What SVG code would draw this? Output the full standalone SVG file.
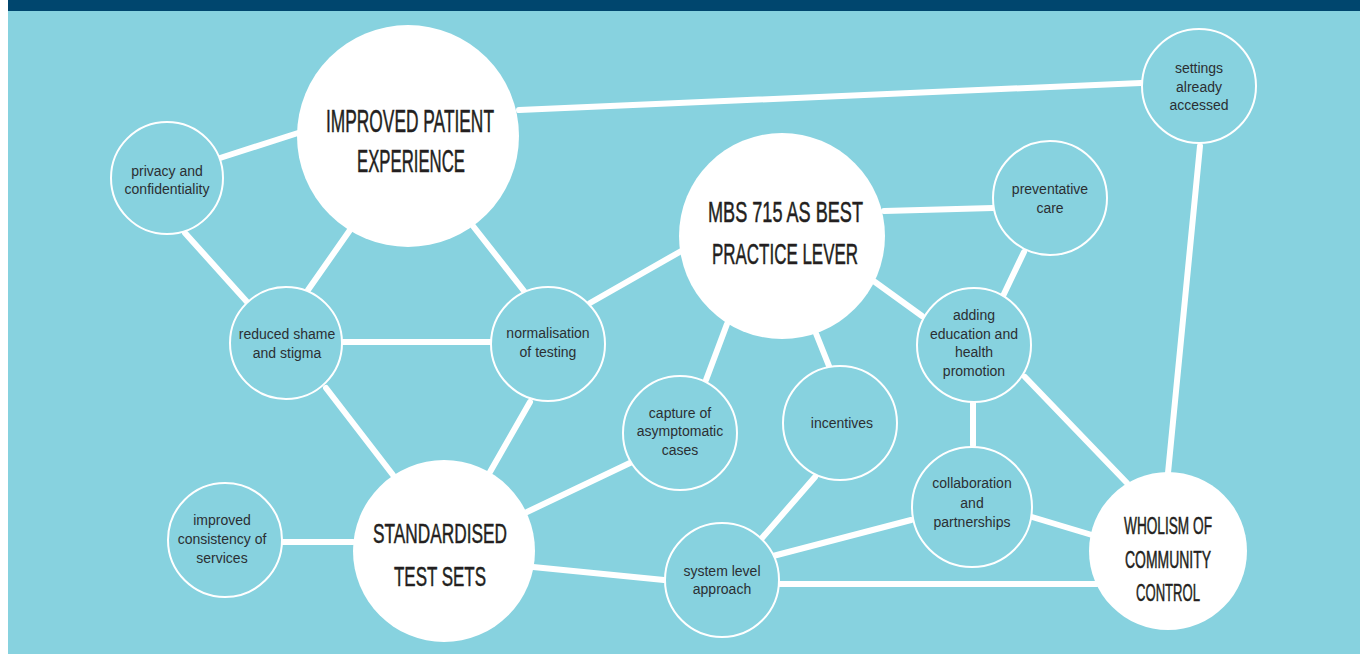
<svg xmlns="http://www.w3.org/2000/svg" width="1360" height="654" viewBox="0 0 1360 654">
<style>
.bg{fill:#87d2df}
.bar{fill:#00466e}
.link{stroke:#ffffff;stroke-width:6;stroke-linecap:round;fill:none}
.big{fill:#ffffff}
.small{fill:#87d2df;stroke:#ffffff;stroke-width:2}
.ht{font-family:"Liberation Sans",Arial,sans-serif;fill:#231f20;stroke:#231f20;stroke-width:0.5;text-anchor:middle}
.st{font-family:"Liberation Sans",Arial,sans-serif;font-size:14px;fill:#2b2f33;text-anchor:middle}
</style>
<rect x="0" y="0" width="1360" height="654" fill="#ffffff"/>
<rect class="bg" x="8" y="11" width="1352" height="643"/>
<rect class="bar" x="8" y="0" width="1352" height="11"/>
<g id="connectors">
<line class="link" x1="220" y1="158" x2="298" y2="133"/>
<line class="link" x1="185" y1="233" x2="248" y2="303"/>
<line class="link" x1="350" y1="230" x2="308" y2="290"/>
<line class="link" x1="473" y1="226" x2="524" y2="291"/>
<line class="link" x1="343" y1="342" x2="490" y2="342"/>
<line class="link" x1="326" y1="388" x2="393" y2="475"/>
<line class="link" x1="530" y1="402" x2="490" y2="472"/>
<line class="link" x1="590" y1="303" x2="683" y2="250"/>
<line class="link" x1="527" y1="512" x2="632" y2="462"/>
<line class="link" x1="282" y1="542" x2="353" y2="542"/>
<line class="link" x1="533" y1="567" x2="664" y2="580"/>
<line class="link" x1="727" y1="324" x2="706" y2="380"/>
<line class="link" x1="815" y1="331" x2="829" y2="366"/>
<line class="link" x1="815" y1="477" x2="762" y2="538"/>
<line class="link" x1="773" y1="556" x2="911" y2="520"/>
<line class="link" x1="780" y1="584" x2="1097" y2="584"/>
<line class="link" x1="884" y1="211" x2="993" y2="208"/>
<line class="link" x1="1024" y1="252" x2="1003" y2="296"/>
<line class="link" x1="875" y1="282" x2="922" y2="316"/>
<line class="link" x1="973" y1="403" x2="973" y2="445"/>
<line class="link" x1="1025" y1="377" x2="1127" y2="483"/>
<line class="link" x1="1032" y1="517" x2="1092" y2="535"/>
<line class="link" x1="1200" y1="146" x2="1168" y2="473"/>
<line class="link" x1="519" y1="110" x2="1141" y2="83"/>
</g>
<g id="improved-patient-experience">
<circle class="big" cx="408" cy="136" r="111"/>
<text class="ht" x="410" y="132" font-size="30.5" textLength="168" lengthAdjust="spacingAndGlyphs">IMPROVED PATIENT</text>
<text class="ht" x="411" y="172" font-size="30.5" textLength="108" lengthAdjust="spacingAndGlyphs">EXPERIENCE</text>
</g>
<g id="mbs-715">
<circle class="big" cx="782" cy="236" r="103"/>
<text class="ht" x="785.5" y="222" font-size="30" textLength="155" lengthAdjust="spacingAndGlyphs">MBS 715 AS BEST</text>
<text class="ht" x="785" y="264" font-size="30" textLength="146" lengthAdjust="spacingAndGlyphs">PRACTICE LEVER</text>
</g>
<g id="standardised-test-sets">
<circle class="big" cx="444" cy="551" r="91"/>
<text class="ht" x="440" y="543" font-size="28.5" textLength="134" lengthAdjust="spacingAndGlyphs">STANDARDISED</text>
<text class="ht" x="440" y="586" font-size="28.5" textLength="92" lengthAdjust="spacingAndGlyphs">TEST SETS</text>
</g>
<g id="wholism-of-community-control">
<circle class="big" cx="1168" cy="551" r="79"/>
<text class="ht" x="1168" y="534" font-size="23.5" textLength="88" lengthAdjust="spacingAndGlyphs">WHOLISM OF</text>
<text class="ht" x="1168" y="568" font-size="23.5" textLength="86" lengthAdjust="spacingAndGlyphs">COMMUNITY</text>
<text class="ht" x="1168" y="601" font-size="23.5" textLength="64" lengthAdjust="spacingAndGlyphs">CONTROL</text>
</g>
<g id="privacy">
<circle class="small" cx="167" cy="178" r="56"/>
<text class="st" x="167" y="176">privacy and</text>
<text class="st" x="167" y="194">confidentiality</text>
</g>
<g id="reduced-shame">
<circle class="small" cx="286" cy="343" r="56"/>
<text class="st" x="287" y="339">reduced shame</text>
<text class="st" x="287" y="358">and stigma</text>
</g>
<g id="normalisation">
<circle class="small" cx="548" cy="344" r="57"/>
<text class="st" x="548" y="338">normalisation</text>
<text class="st" x="548" y="357">of testing</text>
</g>
<g id="improved-consistency">
<circle class="small" cx="225" cy="540" r="57"/>
<text class="st" x="222" y="525">improved</text>
<text class="st" x="222" y="544">consistency of</text>
<text class="st" x="222" y="563">services</text>
</g>
<g id="capture">
<circle class="small" cx="680" cy="433" r="57"/>
<text class="st" x="680" y="418">capture of</text>
<text class="st" x="680" y="436">asymptomatic</text>
<text class="st" x="680" y="455">cases</text>
</g>
<g id="incentives">
<circle class="small" cx="840" cy="423" r="57"/>
<text class="st" x="842" y="428">incentives</text>
</g>
<g id="system-level">
<circle class="small" cx="722" cy="580" r="57"/>
<text class="st" x="722" y="576">system level</text>
<text class="st" x="722" y="594">approach</text>
</g>
<g id="settings">
<circle class="small" cx="1199" cy="86" r="57"/>
<text class="st" x="1199" y="73">settings</text>
<text class="st" x="1199" y="92">already</text>
<text class="st" x="1199" y="110">accessed</text>
</g>
<g id="preventative">
<circle class="small" cx="1050" cy="198" r="57"/>
<text class="st" x="1050" y="194">preventative</text>
<text class="st" x="1050" y="213">care</text>
</g>
<g id="adding-education">
<circle class="small" cx="974" cy="345" r="57"/>
<text class="st" x="974" y="320">adding</text>
<text class="st" x="974" y="339">education and</text>
<text class="st" x="974" y="357">health</text>
<text class="st" x="974" y="376">promotion</text>
</g>
<g id="collaboration">
<circle class="small" cx="972" cy="507" r="60"/>
<text class="st" x="972" y="488">collaboration</text>
<text class="st" x="972" y="508">and</text>
<text class="st" x="972" y="527">partnerships</text>
</g>
</svg>
